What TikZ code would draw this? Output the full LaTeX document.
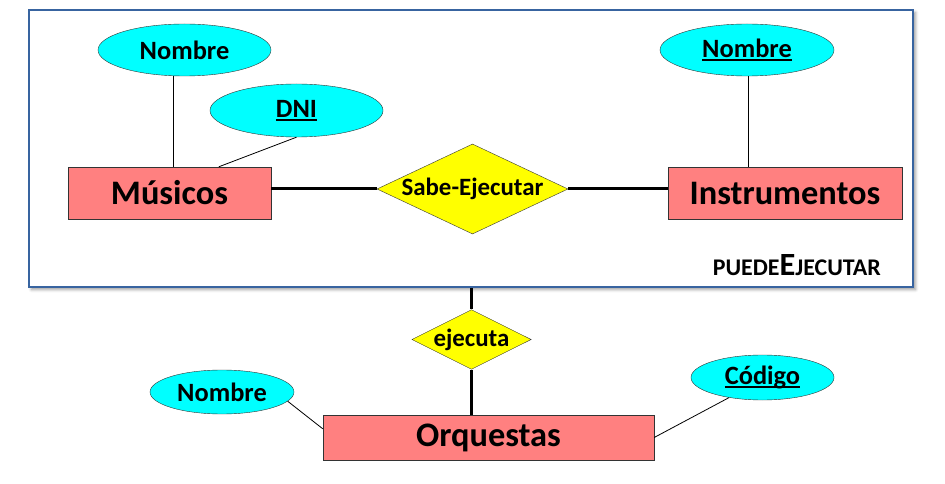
\documentclass[tikz,border=0pt]{standalone}
\usepackage{fontspec}
\setmainfont{Carlito}
\usepackage{tikz}
\usetikzlibrary{shapes.geometric,shadows.blur}
\definecolor{entidad}{RGB}{255,128,128}
\definecolor{atributo}{RGB}{0,255,255}
\definecolor{relacion}{RGB}{255,255,0}
\definecolor{marco}{RGB}{56,100,160}
\newcommand{\clave}[1]{\setbox0\hbox{#1}\rlap{\rule[-3bp]{\wd0}{1.8bp}}\box0}

\begin{document}
\begin{tikzpicture}[x=1bp,y=-1bp,
  ent/.style={draw=black!80, fill=entidad, inner sep=0pt, font=\fontsize{34.5}{40}\selectfont\bfseries},
  atr/.style={ellipse, draw=black!80, fill=atributo, inner sep=0pt, font=\fontsize{26.5}{30}\selectfont\bfseries},
  rel/.style={diamond, draw=black!80, fill=relacion, inner sep=0pt, font=\fontsize{25}{28}\selectfont\bfseries},
  fina/.style={black, line width=0.8bp},
  gruesa/.style={black, line width=3bp}]
\useasboundingbox (0,0) rectangle (945,484);
\node[draw=marco, line width=2bp, fill=white, minimum width=884bp, minimum height=277bp,
  blur shadow={shadow xshift=2.5bp, shadow yshift=-2.5bp, shadow opacity=40, shadow blur radius=3bp}] (PE) at (471,148.5) {};
\node[anchor=base east, inner sep=0pt, font=\bfseries] (PEt) at (881,276)
  {\fontsize{24}{26}\selectfont PUEDE\fontsize{32.5}{34}\selectfont E\fontsize{24}{26}\selectfont JECUTAR};
\node[ent, minimum width=203bp, minimum height=52bp] (M) at (169.5,193) {Músicos};
\node[ent, minimum width=234bp, minimum height=52bp] (I) at (785,193) {Instrumentos};
\node[ent, minimum width=331bp, minimum height=45bp] (O) at (488.5,437.5) {Orquestas};
\node[atr, minimum width=173bp, minimum height=52bp] (NM) at (184.5,50) {Nombre};
\node[atr, minimum width=173bp, minimum height=53bp] (DNI) at (296.5,110.5) {\clave{DNI}};
\node[atr, minimum width=174bp, minimum height=52bp] (NI) at (747,50) {\clave{Nombre}};
\node[atr, minimum width=144bp, minimum height=44bp] (NO) at (222,392) {Nombre};
\node[atr, minimum width=143bp, minimum height=45bp] (COD) at (762.5,377.5) {\clave{Código}};
\node[rel, aspect=2.12, minimum width=191bp, minimum height=90bp] (SE) at (472.5,189) {Sabe-Ejecutar};
\node[rel, aspect=2, minimum width=117bp, minimum height=59bp] (EJ) at (471.5,339.5) {ejecuta};
\draw[fina] (NM.246) -- (NM.246 |- M.north);
\draw[fina] (DNI.south) -- (M.28);
\draw[fina] (NI.272) -- (NI.272 |- I.north);
\draw[fina] (NO.-8) -- (O.177);
\draw[fina] (COD.211) -- (O.east);
\draw[gruesa] (SE.west) -- (SE.west -| M.east);
\draw[gruesa] (SE.east) -- (SE.east -| I.west);
\draw[gruesa] (EJ.north) -- (EJ.north |- PE.south);
\draw[gruesa] (EJ.south) -- (EJ.south |- O.north);
\end{tikzpicture}
\end{document}
